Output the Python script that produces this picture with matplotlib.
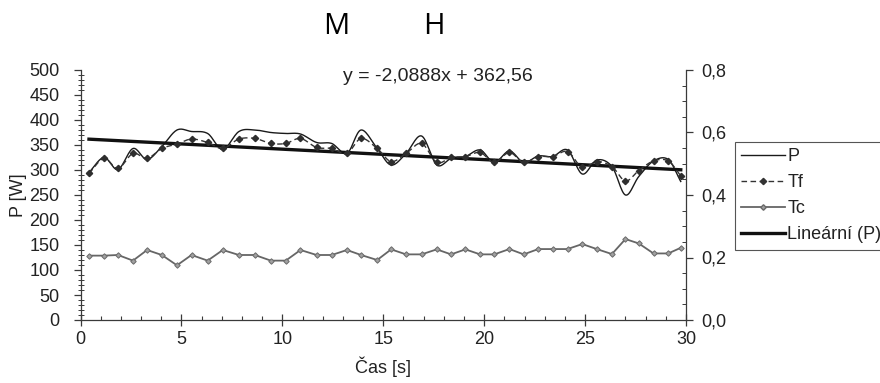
import numpy as np
import matplotlib
matplotlib.use('Agg')
import matplotlib.pyplot as plt
from matplotlib.ticker import MultipleLocator, FuncFormatter
from matplotlib.lines import Line2D

# ---------------- data ----------------
time_s = [0.42, 1.16, 1.86, 2.60, 3.30, 4.03, 4.78, 5.50, 6.30, 7.05,
          7.85, 8.64, 9.43, 10.17, 10.90, 11.70, 12.45, 13.20, 13.90, 14.70,
          15.39, 16.13, 16.90, 17.65, 18.36, 19.07, 19.80, 20.50, 21.25, 21.96,
          22.68, 23.39, 24.13, 24.86, 25.58, 26.33, 27.00, 27.66, 28.39, 29.12,
          29.74]

P_W = [295, 325, 301, 343, 321, 347, 380, 377, 373, 341,
       377, 380, 375, 373, 372, 355, 353, 333, 380, 343,
       310, 333, 368, 310, 323, 327, 340, 315, 338, 315,
       328, 327, 340, 292, 320, 307, 250, 287, 318, 321,
       277]

Tf_s = [0.469, 0.517, 0.485, 0.533, 0.517, 0.549, 0.563, 0.579, 0.568, 0.549,
        0.579, 0.581, 0.565, 0.565, 0.581, 0.552, 0.549, 0.533, 0.581, 0.549,
        0.507, 0.533, 0.565, 0.504, 0.520, 0.523, 0.536, 0.504, 0.536, 0.504,
        0.523, 0.523, 0.539, 0.488, 0.507, 0.491, 0.445, 0.478, 0.509, 0.509,
        0.461]

Tc_s = [0.206, 0.206, 0.208, 0.190, 0.224, 0.208, 0.175, 0.208, 0.190, 0.224,
        0.208, 0.208, 0.190, 0.190, 0.224, 0.208, 0.208, 0.224, 0.208, 0.192,
        0.226, 0.210, 0.210, 0.226, 0.210, 0.226, 0.210, 0.210, 0.227, 0.210,
        0.227, 0.227, 0.227, 0.243, 0.227, 0.211, 0.259, 0.245, 0.213, 0.213,
        0.231]

trend_slope = -2.0888
trend_intercept = 362.56
trend_label = "y = -2,0888x + 362,56"

series_labels = ["P", "Tf", "Tc", "Lineární (P)"]
title_letters = ["M", "H"]
x_label = "Čas [s]"
y_label = "P [W]"


def smooth(x, y, n=16):
    """Catmull-Rom rendering of a smoothed line through the given points."""
    x = np.asarray(x, float)
    y = np.asarray(y, float)
    px = np.concatenate([[2 * x[0] - x[1]], x, [2 * x[-1] - x[-2]]])
    py = np.concatenate([[2 * y[0] - y[1]], y, [2 * y[-1] - y[-2]]])
    xs, ys = [], []
    t = np.linspace(0, 1, n, endpoint=False)
    for i in range(1, len(px) - 2):
        p0x, p1x, p2x, p3x = px[i - 1:i + 3]
        p0y, p1y, p2y, p3y = py[i - 1:i + 3]
        for arr, a0, a1, a2, a3 in ((xs, p0x, p1x, p2x, p3x), (ys, p0y, p1y, p2y, p3y)):
            arr.extend(0.5 * ((2 * a1) + (-a0 + a2) * t +
                              (2 * a0 - 5 * a1 + 4 * a2 - a3) * t ** 2 +
                              (-a0 + 3 * a1 - 3 * a2 + a3) * t ** 3))
    xs.append(x[-1])
    ys.append(y[-1])
    return np.array(xs), np.array(ys)


plt.rcParams['font.family'] = ['Liberation Sans', 'DejaVu Sans']

fig = plt.figure(figsize=(8.8, 3.83), dpi=100)
ax = fig.add_axes([80.5 / 880, 1 - 320 / 383, (686 - 80.5) / 880, 250 / 383])
ax2 = ax.twinx()

spine_col = '#3a3a3a'
text_col = '#222222'

# P (smoothed thin line)
sx, sy = smooth(time_s, P_W)
ax.plot(sx, sy, color='#1a1a1a', lw=1.0, zorder=3)

# trend line
tx = np.array([time_s[0], time_s[-1]])
ax.plot(tx, trend_slope * tx + trend_intercept, color='#111111', lw=2.4, zorder=4)

# Tf (dashed smoothed with diamond markers) on secondary axis
fx, fy = smooth(time_s, Tf_s)
ax2.plot(fx, fy, color='#333333', lw=1.0, ls=(0, (4, 2.5)), zorder=3)
ax2.plot(time_s, Tf_s, ls='none', marker='D', ms=3.2, color='#2e2e2e', zorder=4)

# Tc (gray line with small markers)
ax2.plot(time_s, Tc_s, color='#666666', lw=1.3, marker='D', ms=2.8,
         mfc='#a0a0a0', mec='#6a6a6a', mew=0.7, zorder=3)

# axes limits
ax.set_xlim(0, 30)
ax.set_ylim(0, 500)
ax2.set_ylim(0, 0.8)

for a in (ax, ax2):
    a.spines['top'].set_visible(False)
    for s in a.spines.values():
        s.set_color(spine_col)
        s.set_linewidth(0.9)
ax.spines['right'].set_visible(False)
ax2.spines['left'].set_visible(False)
ax2.spines['bottom'].set_visible(False)

# ticks
ax.xaxis.set_major_locator(MultipleLocator(5))
ax.xaxis.set_minor_locator(MultipleLocator(1))
ax.yaxis.set_major_locator(MultipleLocator(50))
ax.yaxis.set_minor_locator(MultipleLocator(10))
ax2.yaxis.set_major_locator(MultipleLocator(0.2))
ax2.yaxis.set_minor_locator(MultipleLocator(0.05))
ax2.yaxis.set_major_formatter(FuncFormatter(lambda v, p: f"{v:.1f}".replace('.', ',')))

ax.tick_params(axis='x', which='major', direction='inout', length=8, width=0.9,
               color=spine_col, labelsize=13, pad=4, labelcolor=text_col)
ax.tick_params(axis='x', which='minor', direction='in', length=3, width=0.8, color=spine_col)
ax.tick_params(axis='y', which='major', direction='out', length=5, width=0.9,
               color=spine_col, labelsize=13, pad=10, labelcolor=text_col)
ax.tick_params(axis='y', which='minor', direction='inout', length=4, width=0.7, color=spine_col)
ax2.tick_params(axis='y', which='major', direction='out', length=5, width=0.9,
                color=spine_col, labelsize=13, pad=6, labelcolor=text_col)
ax2.tick_params(axis='y', which='minor', direction='in', length=3, width=0.7, color=spine_col)

ax.set_xlabel(x_label, fontsize=13, labelpad=6, color=text_col)
ax.set_ylabel(y_label, fontsize=13, labelpad=2, color=text_col)

ax.text(13.0, 486, trend_label, fontsize=14, ha='left', va='center', color=text_col)

# title letters
fig.text(336 / 880, 1 - 26 / 383, title_letters[0], fontsize=21, ha='center', va='center',
         family=['Open Sans', 'DejaVu Sans'])
fig.text(434 / 880, 1 - 26 / 383, title_letters[1], fontsize=21, ha='center', va='center',
         family=['Open Sans', 'DejaVu Sans'])

# legend
handles = [
    Line2D([], [], color='#1a1a1a', lw=1.0),
    Line2D([], [], color='#333333', lw=1.0, ls=(0, (4, 2.5)), marker='D', ms=3.2),
    Line2D([], [], color='#666666', lw=1.3, marker='D', ms=2.8, mfc='#a0a0a0', mec='#6a6a6a'),
    Line2D([], [], color='#111111', lw=2.4),
]
leg = fig.legend(handles, series_labels, loc='upper left',
                 bbox_to_anchor=(735 / 880, 1 - 142 / 383), borderaxespad=0,
                 fontsize=13, frameon=True, fancybox=False, framealpha=1,
                 handlelength=2.4, handletextpad=0.15, labelspacing=0.5,
                 borderpad=0.35)
leg.get_frame().set_edgecolor('#555555')
leg.get_frame().set_linewidth(0.8)
for txt in leg.get_texts():
    txt.set_color(text_col)

fig.savefig('out.png', dpi=100)
